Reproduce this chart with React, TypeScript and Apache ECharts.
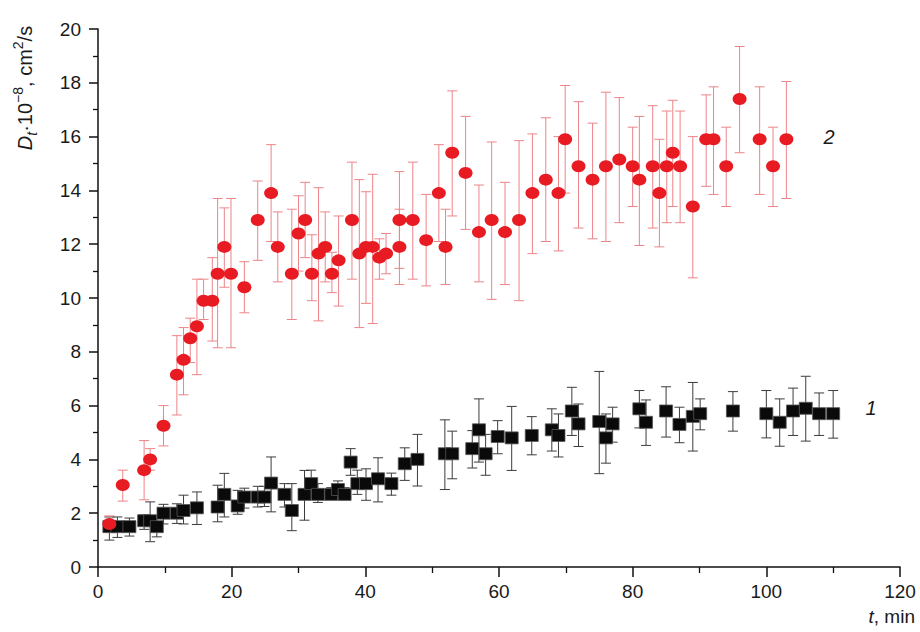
import React, { useEffect, useRef } from "react";
import * as echarts from "echarts";

// Series 2 (red circles): time (min), value, lower and upper error bar ends
const redT = [1.7, 3.7, 6.9, 7.8, 9.8, 11.8, 12.8, 13.8, 14.8, 15.8, 17.1, 17.9, 18.9, 19.9, 21.9, 23.9, 25.9, 26.9, 29, 30, 31, 32, 33, 34, 35, 36, 38, 39.1, 40.1, 41.1, 42.1, 43.1, 45.1, 45.1, 47.1, 49.1, 51, 52, 53, 55, 57, 58.9, 60.9, 63, 65, 67, 68.9, 69.9, 71.9, 74, 76, 78, 80, 81, 83, 84, 85.1, 86, 87.1, 89, 91, 92.1, 94, 96, 99, 101, 103];
const redV = [1.6, 3.05, 3.6, 4.0, 5.25, 7.15, 7.7, 8.5, 8.95, 9.9, 9.9, 10.9, 11.9, 10.9, 10.4, 12.9, 13.9, 11.9, 10.9, 12.4, 12.9, 10.9, 11.65, 11.9, 10.9, 11.4, 12.9, 11.65, 11.9, 11.9, 11.5, 11.65, 12.9, 11.9, 12.9, 12.15, 13.9, 11.9, 15.4, 14.65, 12.45, 12.9, 12.45, 12.9, 13.9, 14.4, 13.9, 15.9, 14.9, 14.4, 14.9, 15.15, 14.9, 14.4, 14.9, 13.9, 14.9, 15.4, 14.9, 13.4, 15.9, 15.9, 14.9, 17.4, 15.9, 14.9, 15.9];
const redLo = [1.3, 2.45, 2.5, 3.6, 4.5, 5.65, 6.4, 7.6, 7.15, 9.2, 8.4, 8.15, 10.4, 8.15, 9.45, 11.4, 12.1, 10.6, 9.2, 11.0, 11.5, 9.9, 9.15, 10.6, 10.2, 9.7, 10.7, 8.9, 9.8, 9.05, 10.7, 10.9, 10.5, 11.1, 10.7, 10.45, 12.1, 10.5, 13.05, 12.55, 10.6, 9.95, 10.5, 9.9, 11.65, 12.1, 11.75, 13.9, 12.6, 12.2, 12.1, 12.8, 13.4, 11.95, 12.6, 11.9, 12.8, 13.4, 12.8, 10.75, 14.15, 13.85, 13.4, 15.4, 13.85, 13.4, 13.7];
const redHi = [1.9, 3.6, 4.7, 4.4, 6.0, 8.6, 8.9, 9.25, 10.7, 10.7, 11.5, 13.7, 13.35, 13.7, 11.35, 14.35, 15.7, 13.2, 13.3, 13.8, 14.3, 12.35, 14.1, 13.2, 11.7, 13.05, 15.05, 14.4, 13.95, 14.6, 12.2, 12.4, 14.7, 13.3, 15.05, 13.85, 15.7, 13.3, 17.7, 16.75, 14.2, 15.8, 14.3, 15.85, 16.1, 16.7, 16.0, 17.9, 17.3, 16.5, 17.65, 17.45, 16.35, 16.75, 17.15, 15.9, 16.95, 17.35, 16.95, 16.0, 17.55, 17.85, 16.35, 19.35, 17.85, 16.35, 18.05];

// Series 1 (black squares)
const blackT = [1.7, 2.9, 4.7, 6.9, 7.8, 8.8, 9.8, 11.8, 12.8, 14.8, 17.9, 18.9, 20.9, 21.9, 23.9, 24.9, 25.9, 27.9, 29, 30.9, 31.9, 32.9, 34.9, 35.9, 36.9, 37.8, 38.8, 40.1, 41.9, 43.9, 45.9, 47.8, 51.9, 53, 56, 57, 58, 59.8, 61.9, 64.9, 67.9, 68.9, 70.9, 71.9, 75, 76, 77, 81, 82, 85, 87, 89, 90.1, 95, 100, 102, 104, 105.9, 107.9, 110];
const blackV = [1.5, 1.5, 1.5, 1.72, 1.72, 1.5, 2.0, 2.0, 2.1, 2.2, 2.23, 2.7, 2.27, 2.6, 2.6, 2.6, 3.12, 2.7, 2.1, 2.7, 3.1, 2.7, 2.7, 2.88, 2.7, 3.9, 3.1, 3.1, 3.28, 3.1, 3.84, 4.0, 4.21, 4.21, 4.4, 5.1, 4.21, 4.85, 4.8, 4.89, 5.1, 4.89, 5.8, 5.32, 5.41, 4.8, 5.32, 5.88, 5.38, 5.8, 5.3, 5.6, 5.7, 5.8, 5.7, 5.38, 5.8, 5.9, 5.7, 5.7];
const blackLo = [1.0, 1.1, 1.15, 1.4, 0.94, 1.12, 1.6, 1.62, 1.6, 1.58, 1.68, 1.86, 1.96, 2.19, 2.23, 2.25, 2.05, 2.23, 1.35, 1.74, 2.6, 2.4, 2.55, 2.6, 2.5, 3.41, 2.7, 2.48, 2.42, 2.67, 3.22, 3.01, 2.88, 3.28, 3.68, 3.9, 3.41, 4.21, 3.59, 4.17, 4.31, 4.09, 4.89, 4.48, 3.47, 3.86, 4.64, 5.17, 4.52, 4.83, 4.62, 4.31, 5.1, 5.05, 4.8, 4.49, 4.89, 4.68, 4.89, 4.79];
const blackHi = [1.86, 1.86, 1.82, 1.93, 2.42, 1.82, 2.33, 2.35, 2.67, 2.79, 3.04, 3.48, 2.85, 2.93, 3.0, 3.0, 4.09, 3.1, 3.1, 3.59, 3.6, 3.1, 2.95, 3.2, 2.95, 4.4, 3.6, 3.65, 4.06, 3.49, 4.43, 4.93, 5.47, 5.05, 5.07, 6.25, 4.93, 5.44, 5.97, 5.59, 5.88, 5.69, 6.68, 6.06, 7.27, 5.69, 5.94, 6.56, 6.21, 6.7, 5.94, 6.86, 6.25, 6.52, 6.56, 6.25, 6.65, 7.09, 6.47, 6.56];

const xTicks = { min: 0, max: 120, interval: 20 };
const yTicks = { min: 0, max: 20, interval: 2 };

const RED = "#e81a22";
const RED_ERR = "#ec8489";
const BLACK = "#0a0a0a";
const BLACK_ERR = "#3c3c3c";

function errorSeries(t: number[], lo: number[], hi: number[], color: string, z: number) {
  return {
    type: "custom",
    z,
    silent: true,
    data: t.map((x, i) => [x, lo[i], hi[i]]),
    encode: { x: 0, y: [1, 2] },
    renderItem: (params: any, api: any) => {
      const x = api.value(0);
      const a = api.coord([x, api.value(1)]);
      const b = api.coord([x, api.value(2)]);
      const hw = 5;
      const style = { stroke: color, lineWidth: 1 };
      return {
        type: "group",
        children: [
          { type: "line", shape: { x1: a[0], y1: a[1], x2: b[0], y2: b[1] }, style },
          { type: "line", shape: { x1: a[0] - hw, y1: a[1], x2: a[0] + hw, y2: a[1] }, style },
          { type: "line", shape: { x1: b[0] - hw, y1: b[1], x2: b[0] + hw, y2: b[1] }, style },
        ],
      };
    },
  };
}

export default function App() {
  const ref = useRef<HTMLDivElement>(null);
  useEffect(() => {
    if (!ref.current) return;
    const chart = echarts.init(ref.current, undefined, { renderer: "svg" });
    const font = "Liberation Sans, Arial, sans-serif";
    const ink = "#1a1a1a";
    chart.setOption({
      animation: false,
      backgroundColor: "#ffffff",
      grid: { left: 98, right: 20, top: 29, bottom: 65, containLabel: false },
      xAxis: {
        type: "value",
        ...xTicks,
        axisLine: { show: true, onZero: false, lineStyle: { color: "#111", width: 1.5 } },
        axisTick: { show: true, inside: false, length: 10, lineStyle: { color: "#111", width: 1.5 } },
        minorTick: { show: true, splitNumber: 2, length: 6, lineStyle: { color: "#111", width: 1.3 } },
        splitLine: { show: false },
        axisLabel: { color: ink, fontSize: 19, fontFamily: font, margin: 15 },
      },
      yAxis: {
        type: "value",
        ...yTicks,
        axisLine: { show: true, onZero: false, lineStyle: { color: "#111", width: 1.5 } },
        axisTick: { show: true, inside: false, length: 9, lineStyle: { color: "#111", width: 1.5 } },
        minorTick: { show: true, splitNumber: 2, length: 5, lineStyle: { color: "#111", width: 1.3 } },
        splitLine: { show: false },
        axisLabel: { color: ink, fontSize: 19, fontFamily: font, margin: 17 },
      },
      graphic: [
        {
          type: "text",
          x: 25,
          y: 88,
          rotation: Math.PI / 2,
          style: {
            text: "{i|D}{sub|t}{n|·10}{sup|−8}{n|, cm}{sup|2}{n|/s}",
            align: "center",
            verticalAlign: "middle",
            fill: ink,
            rich: {
              i: { fontSize: 20, fontStyle: "italic", fontFamily: font, fill: ink, lineHeight: 28, verticalAlign: "middle" },
              sub: { fontSize: 14, fontStyle: "italic", fontFamily: font, fill: ink, lineHeight: 28, verticalAlign: "bottom" },
              n: { fontSize: 20, fontFamily: font, fill: ink, lineHeight: 28, verticalAlign: "middle" },
              sup: { fontSize: 14, fontFamily: font, fill: ink, lineHeight: 28, verticalAlign: "top" },
            },
          },
        },
        {
          type: "text",
          x: 915,
          y: 616,
          style: {
            text: "{i|t}{n|, min}",
            align: "right",
            verticalAlign: "middle",
            rich: {
              i: { fontSize: 19, fontStyle: "italic", fontFamily: font, fill: ink, lineHeight: 20 },
              n: { fontSize: 19, fontFamily: font, fill: ink, lineHeight: 20 },
            },
          },
        },
        {
          type: "text",
          x: 829,
          y: 137,
          style: { text: "2", fontSize: 20, fontStyle: "italic", fontFamily: font, fill: ink, align: "center", verticalAlign: "middle" },
        },
        {
          type: "text",
          x: 871,
          y: 408,
          style: { text: "1", fontSize: 20, fontStyle: "italic", fontFamily: font, fill: ink, align: "center", verticalAlign: "middle" },
        },
      ],
      series: [
        errorSeries(blackT, blackLo, blackHi, BLACK_ERR, 1),
        errorSeries(redT, redLo, redHi, RED_ERR, 2),
        {
          type: "scatter",
          z: 3,
          symbol: "rect",
          symbolSize: [13, 12],
          itemStyle: { color: BLACK, opacity: 1, borderColor: "#555", borderWidth: 0.8 },
          data: blackT.map((x, i) => [x, blackV[i]]),
        },
        {
          type: "scatter",
          z: 4,
          symbol: "circle",
          symbolSize: [14, 12],
          itemStyle: { color: RED, opacity: 1 },
          data: redT.map((x, i) => [x, redV[i]]),
        },
      ],
    });
    return () => chart.dispose();
  }, []);
  return <div ref={ref} style={{ width: 920, height: 632, position: "absolute", left: 0, top: 0 }} />;
}
